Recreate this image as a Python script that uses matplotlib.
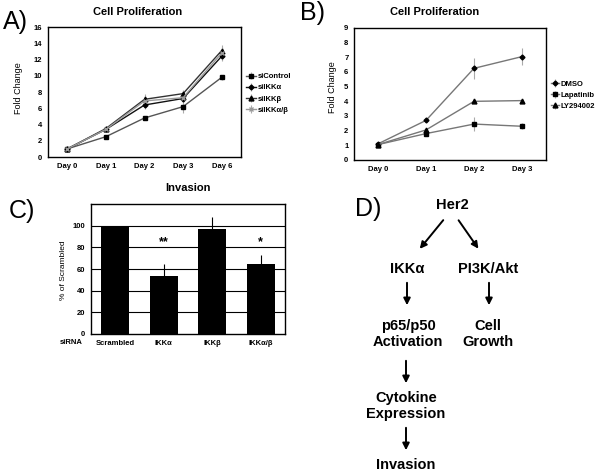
import numpy as np
import matplotlib
matplotlib.use("Agg")
import matplotlib.pyplot as plt

plt.rcParams['font.family'] = ['Liberation Sans', 'DejaVu Sans']
plt.rcParams['font.weight'] = 'bold'

W, H = 602, 474

# Panel A data
days_a = ['Day 0', 'Day 1', 'Day 2', 'Day 3', 'Day 6']
si_control = [1.0, 2.5, 4.8, 6.2, 9.8]
si_ikka = [1.0, 3.4, 6.4, 7.2, 12.4]
si_ikkb = [1.0, 3.5, 7.1, 7.8, 13.1]
si_ikkab = [1.0, 3.4, 6.9, 7.3, 12.8]
err_control = [0.1, 0.15, 0.2, 0.8, 0.3]
err_ikka = [0.1, 0.2, 0.5, 0.4, 0.6]
err_ikkb = [0.1, 0.2, 0.6, 0.4, 0.7]
err_ikkab = [0.1, 0.2, 0.5, 0.5, 0.8]

# Panel B data
days_b = ['Day 0', 'Day 1', 'Day 2', 'Day 3']
dmso = [1.1, 2.7, 6.25, 7.05]
lapatinib = [1.05, 1.8, 2.45, 2.3]
ly294002 = [1.05, 2.05, 4.0, 4.05]
err_dmso = [0.1, 0.1, 0.7, 0.6]
err_lapatinib = [0.1, 0.15, 0.45, 0.2]
err_ly = [0.05, 0.1, 0.1, 0.1]

# Panel C data
sirna = ['Scrambled', 'IKK\u03b1', 'IKK\u03b2', 'IKK\u03b1/\u03b2']
invasion = [100, 54, 97, 65]
invasion_err = [0, 11, 11, 8]
stars = ['', '**', '', '*']


def box(left, top, right, bottom):
    return [left / W, 1 - bottom / H, (right - left) / W, (bottom - top) / H]


def fpos(x, y):
    return (x / W, 1 - y / H)


fig = plt.figure(figsize=(W / 100, H / 100), dpi=100)

# ---- Panel A
ax = fig.add_axes(box(48, 27, 241, 157))
xa = np.arange(len(days_a))
series_a = [
    (si_control, err_control, 's', '#555555', 'siControl', 3.5),
    (si_ikka, err_ikka, 'D', '#111111', 'siIKK\u03b1', 2.5),
    (si_ikkb, err_ikkb, '^', '#333333', 'siIKK\u03b2', 3.5),
    (si_ikkab, err_ikkab, 'x', '#9a9a9a', 'siIKK\u03b1/\u03b2', 3),
]
for vals, err, mk, col, lab, ms in series_a:
    ax.errorbar(xa, vals, yerr=err, color=col, ecolor='#aaaaaa', elinewidth=0.8,
                lw=1.0, marker=mk, ms=ms, mfc='k' if mk != 'x' else col,
                mec='k' if mk != 'x' else col, label=lab, capsize=0)
ax.set_xlim(-0.5, 4.5)
ax.set_ylim(0, 16)
ax.set_yticks(range(0, 17, 2))
ax.set_xticks(xa)
ax.set_xticklabels(days_a)
ax.tick_params(labelsize=5.5, length=0, pad=4)
ax.set_ylabel('Fold Change', fontsize=6.5)
ax.yaxis.set_label_coords(-0.13, 0.53)
ax.text(0.466, 1.115, 'Cell Proliferation', transform=ax.transAxes,
        ha='center', va='center', fontsize=8)
ax.legend(loc='center left', bbox_to_anchor=(1.01, 0.49), frameon=False,
          fontsize=5.5, handlelength=1.3, handletextpad=0.2, labelspacing=0.5,
          borderaxespad=0)

# ---- Panel B
bx = fig.add_axes(box(354, 28, 546, 160))
xb = np.arange(len(days_b))
series_b = [
    (dmso, err_dmso, 'D', 'DMSO', 2.5),
    (lapatinib, err_lapatinib, 's', 'Lapatinib', 3.5),
    (ly294002, err_ly, '^', 'LY294002', 3.5),
]
for vals, err, mk, lab, ms in series_b:
    bx.errorbar(xb, vals, yerr=err, color='#777777', ecolor='#aaaaaa',
                elinewidth=0.8, lw=1.0, marker=mk, ms=ms, mfc='k', mec='k',
                label=lab, capsize=0)
bx.set_xlim(-0.5, 3.5)
bx.set_ylim(0, 9)
bx.set_yticks(range(0, 10))
bx.set_xticks(xb)
bx.set_xticklabels(days_b)
bx.tick_params(labelsize=5.5, length=0, pad=4)
bx.set_ylabel('Fold Change', fontsize=6.5)
bx.yaxis.set_label_coords(-0.09, 0.55)
bx.text(0.42, 1.12, 'Cell Proliferation', transform=bx.transAxes,
        ha='center', va='center', fontsize=8)
bx.legend(loc='center left', bbox_to_anchor=(1.01, 0.49), frameon=False,
          fontsize=5.5, handlelength=1.0, handletextpad=0.2, labelspacing=0.5,
          borderaxespad=0)

# ---- Panel C
cx = fig.add_axes(box(91, 204, 285, 334))
xc = np.arange(len(sirna))
cx.bar(xc, invasion, width=0.57, color='k', zorder=2)
cx.errorbar(xc, invasion, yerr=[[0] * 4, invasion_err], fmt='none',
            ecolor='k', elinewidth=0.8, capsize=0, zorder=3)
for i, s in enumerate(stars):
    if s:
        cx.text(xc[i], 85, s, ha='center', va='center', fontsize=9)
cx.set_xlim(-0.5, 3.5)
cx.set_ylim(0, 120)
cx.set_yticks(range(0, 101, 20))
for yv in range(20, 101, 20):
    cx.axhline(yv, color='k', lw=0.8, zorder=1)
cx.set_xticks(xc)
cx.set_xticklabels(sirna)
cx.tick_params(labelsize=5.5, length=0, pad=4)
cx.set_ylabel('% of Scrambled', fontsize=6)
cx.yaxis.set_label_coords(-0.124, 0.49)
cx.text(-0.045, -0.035, 'siRNA', transform=cx.transAxes, ha='right', va='top',
        fontsize=5.5)
cx.text(0.5, 1.123, 'Invasion', transform=cx.transAxes, ha='center',
        va='center', fontsize=8)

for a in (ax, bx, cx):
    for sp in a.spines.values():
        sp.set_linewidth(1.0)

# ---- Panel labels
for lab, (x, y) in [('A)', (15, 22)), ('B)', (313, 13)), ('C)', (22, 211)),
                    ('D)', (368, 209))]:
    fig.text(*fpos(x, y), lab, ha='center', va='center', fontsize=18,
             fontweight='normal')

# ---- Panel D diagram
nodes = [
    ('Her2', 452, 205),
    ('IKK\u03b1', 407, 269),
    ('PI3K/Akt', 488, 269),
    ('p65/p50\nActivation', 408, 334),
    ('Cell\nGrowth', 488, 334),
    ('Cytokine\nExpression', 406, 406),
    ('Invasion', 406, 465),
]
for txt, x, y in nodes:
    fig.text(*fpos(x, y), txt, ha='center', va='center', fontsize=10.5,
             linespacing=1.1)

arrows = [
    ((445, 218), (418, 251)),
    ((457, 218), (480, 251)),
    ((407, 280), (407, 308)),
    ((489, 280), (489, 308)),
    ((406, 358), (406, 386)),
    ((406, 425), (406, 453)),
]
for start, end in arrows:
    fig.add_artist(matplotlib.patches.FancyArrowPatch(
        fpos(*start), fpos(*end), transform=fig.transFigure,
        arrowstyle='-|>', mutation_scale=10, lw=1.4, color='k'))

fig.savefig('out.png', dpi=100)
